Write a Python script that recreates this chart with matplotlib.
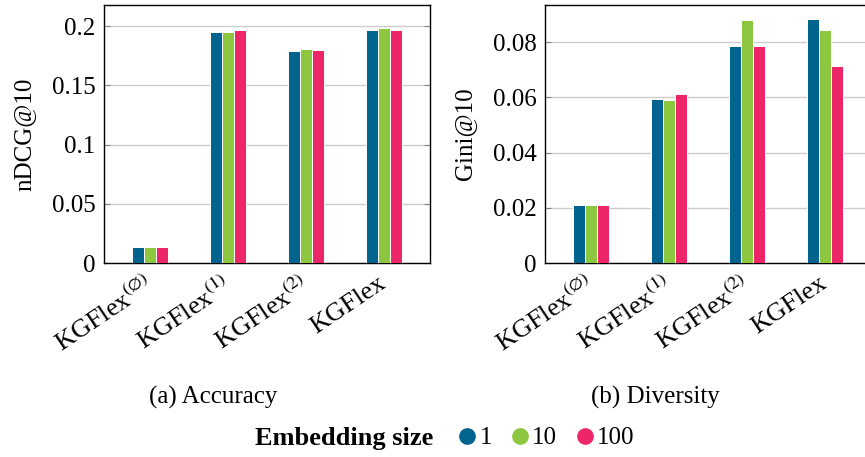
import matplotlib
matplotlib.use("Agg")
import matplotlib.pyplot as plt
import matplotlib.transforms as mtransforms
import numpy as np
from matplotlib.lines import Line2D

plt.rcParams['font.family'] = ['Liberation Serif', 'DejaVu Serif']
plt.rcParams['mathtext.fontset'] = 'stix'

# datos
modelos = [r"KGFlex$^{(\varnothing)}$", r"KGFlex$^{(1)}$", r"KGFlex$^{(2)}$", "KGFlex"]
tamanos = ["1", "10", "100"]
colores = ["#00648f", "#8dc63f", "#ed2669"]

ndcg_1 = [0.0135, 0.1952, 0.1792, 0.1972]
ndcg_10 = [0.0135, 0.1956, 0.1809, 0.1983]
ndcg_100 = [0.0135, 0.1966, 0.1801, 0.1972]

gini_1 = [0.0212, 0.0594, 0.0786, 0.0885]
gini_10 = [0.0212, 0.0592, 0.0880, 0.0845]
gini_100 = [0.0212, 0.0613, 0.0787, 0.0715]

W, H = 865, 457
fig = plt.figure(figsize=(W / 100, H / 100), dpi=100)
ax1 = fig.add_axes([104 / W, (H - 263) / H, 326 / W, 258 / H])
ax2 = fig.add_axes([545 / W, (H - 263) / H, 326 / W, 258 / H])

x = np.arange(len(modelos))
ancho = 0.158
desplaza = mtransforms.ScaledTranslation(-6 / 100, -9 / 100, fig.dpi_scale_trans)


def dibuja(ax, series, ymax, yticks, yticklabels, ylabel):
    for i, (vals, col) in enumerate(zip(series, colores)):
        ax.bar(x + (i - 1) * ancho, vals, ancho, color=col,
               edgecolor='white', linewidth=0.7, zorder=3)
    ax.set_xlim(-0.59, 3.59)
    ax.set_ylim(0, ymax)
    ax.set_yticks(yticks)
    ax.set_yticklabels(yticklabels, fontsize=18)
    ax.set_xticks(x)
    ax.set_xticklabels([])
    # etiquetas giradas colocadas a mano
    for xi, nombre in zip(x, modelos):
        ax.text(xi, 0, nombre, fontsize=19, rotation=34, ha='right', va='top',
                rotation_mode='anchor',
                transform=ax.transData + desplaza)
    ax.tick_params(axis='x', length=0)
    ax.tick_params(axis='y', direction='in', length=4, color='#888888',
                   right=True, pad=6)
    ax.yaxis.grid(True, color='#cccccc', linewidth=1, zorder=0)
    ax.set_axisbelow(True)
    for s in ax.spines.values():
        s.set_linewidth(1.0)
    ax.set_ylabel(ylabel, fontsize=18, labelpad=12)


dibuja(ax1, [ndcg_1, ndcg_10, ndcg_100], 0.218,
       [0, 0.05, 0.1, 0.15, 0.2], ["0", "0.05", "0.1", "0.15", "0.2"], "nDCG@10")
dibuja(ax2, [gini_1, gini_10, gini_100], 0.0935,
       [0, 0.02, 0.04, 0.06, 0.08], ["0", "0.02", "0.04", "0.06", "0.08"], "Gini@10")

# subtítulos
fig.text(213 / W, 1 - 397 / H, "(a) Accuracy", ha='center', va='center', fontsize=18)
fig.text(655 / W, 1 - 397 / H, "(b) Diversity", ha='center', va='center', fontsize=18)

# leyenda
fig.text(433 / W, 1 - 438 / H, "Embedding size", ha='right', va='center',
         fontsize=19, fontweight='bold')
handles = [Line2D([], [], marker='o', linestyle='none', markersize=11,
                  color=c) for c in colores]
fig.legend(handles, tamanos, loc='center left', bbox_to_anchor=(442 / W, 1 - 438 / H),
           ncol=3, frameon=False, fontsize=18, handletextpad=0.0,
           columnspacing=0.6, handlelength=1.0, borderpad=0)

fig.savefig("out.png", dpi=100)
